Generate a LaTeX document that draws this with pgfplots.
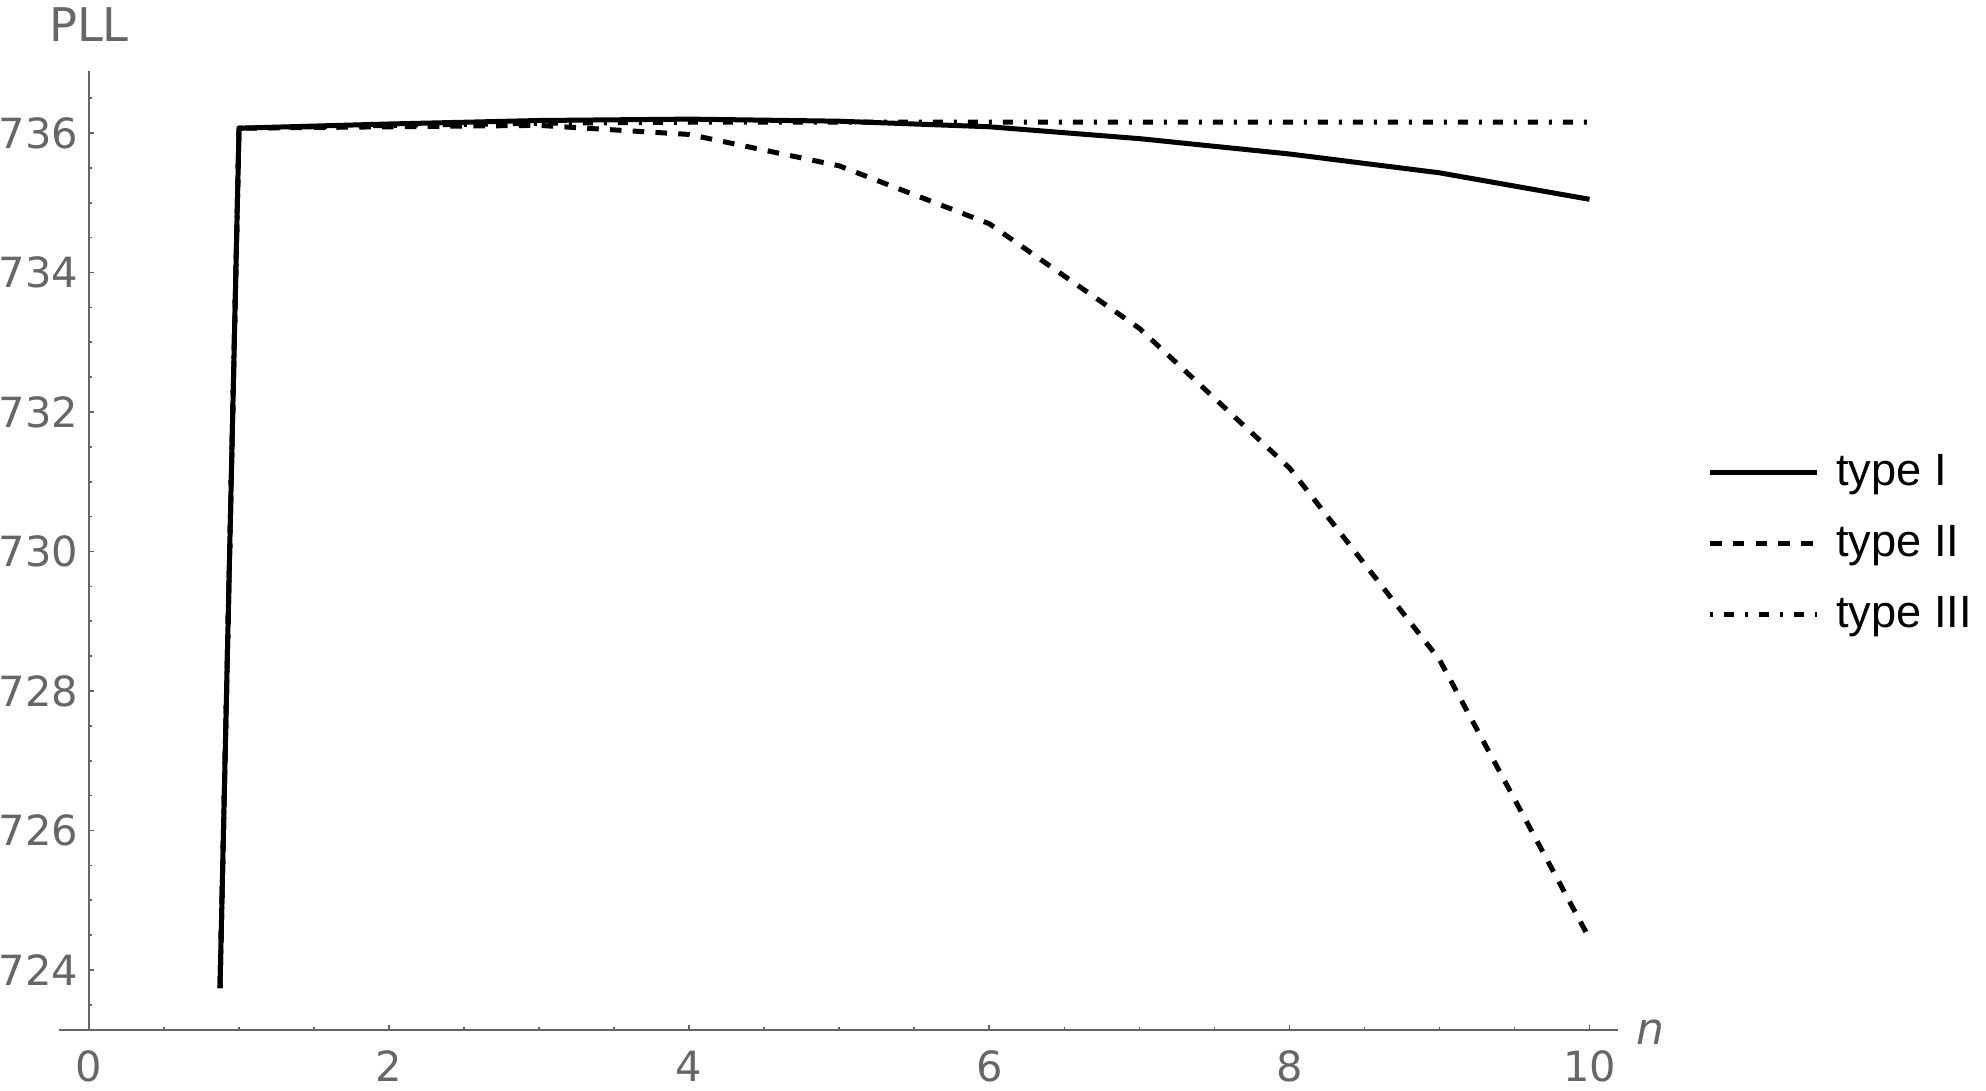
\documentclass[border=0pt]{standalone}
\usepackage{fontspec}
\setmainfont{Liberation Sans}
\newfontfamily\dejavu{DejaVu Sans}
\usepackage{pgfplots}
\pgfplotsset{compat=1.18}
\definecolor{axgray}{RGB}{102,102,102}

\begin{document}
\begin{tikzpicture}
\begin{axis}[
    scale only axis,
    width=382.25pt, height=239.75pt,
    xmin=0, xmax=10.19, ymin=723.14, ymax=736.89,
    clip=false,
    axis lines*=left,
    axis line style={axgray, line width=0.4pt},
    xtick={0,2,...,10}, ytick={724,726,...,736},
    minor xtick={0.5,1,...,9.5}, minor ytick={723.5,724,...,736.5},
    tick align=inside,
    major tick length=1.3pt, minor tick length=0.8pt,
    tick style={axgray, line width=0.4pt},
    scaled ticks=false,
    /pgf/number format/assume math mode=true,
    ticklabel style={font=\dejavu\fontsize{10.4}{12}\selectfont, text=axgray},
    yticklabel style={anchor=east, inner sep=0pt, xshift=-2.5pt},
    xticklabel style={anchor=north, inner sep=0pt, yshift=-5pt},
    every axis x label/.style={at={(axis description cs:1.021,-0.002)}, anchor=center},
    every axis y label/.style={at={(axis description cs:0,1.048)}, anchor=center},
    xlabel={\dejavu\fontsize{11}{13}\selectfont\color{axgray}\itshape n},
    ylabel={\dejavu\fontsize{11.6}{13}\selectfont\color{axgray}PLL},
    legend style={draw=none, fill=none, at={(1.058,0.507)}, anchor=west,
        inner sep=0pt, column sep=4.2pt, row sep=8.5pt,
        font=\fontsize{11.3}{13}\selectfont,
        nodes={inner sep=0pt}, cells={anchor=west}},
    legend image code/.code={\draw[#1] (0pt,0pt) -- (26.75pt,0pt);},
]
% type I
\addplot[black, line width=1.25pt, line join=round] coordinates {
    (0.873,723.74) (1,736.07) (2,736.13) (3,736.18) (4,736.20) (5,736.17)
    (6,736.09) (7,735.92) (8,735.70) (9,735.43) (10,735.05)
};
\addlegendentry{type I}
% type II
\addplot[black, line width=1.25pt, line join=round, dash pattern=on 2.9pt off 2.8pt] coordinates {
    (0.873,723.74) (1,736.07) (2,736.09) (3,736.11) (4,735.98) (5,735.53)
    (6,734.70) (7,733.20) (8,731.20) (9,728.45) (10,724.45)
};
\addlegendentry{type II}
% type III
\addplot[black, line width=1.25pt, line join=round,
    dash pattern=on 0.75pt off 2.75pt on 2.5pt off 2.75pt] coordinates {
    (0.873,723.74) (1,736.07) (2,736.11) (3,736.14) (4,736.155) (5,736.155)
    (6,736.155) (7,736.155) (8,736.155) (9,736.155) (10,736.155)
};
\addlegendentry{type III}
% x axis runs a little left of the y axis
\draw[axgray, line width=0.4pt] (axis cs:-0.2,723.14) -- (axis cs:0,723.14);
\end{axis}
\pgfresetboundingbox
\useasboundingbox (-22.25pt,-15.25pt) rectangle (474.25pt,257.5pt);
\end{tikzpicture}
\end{document}
